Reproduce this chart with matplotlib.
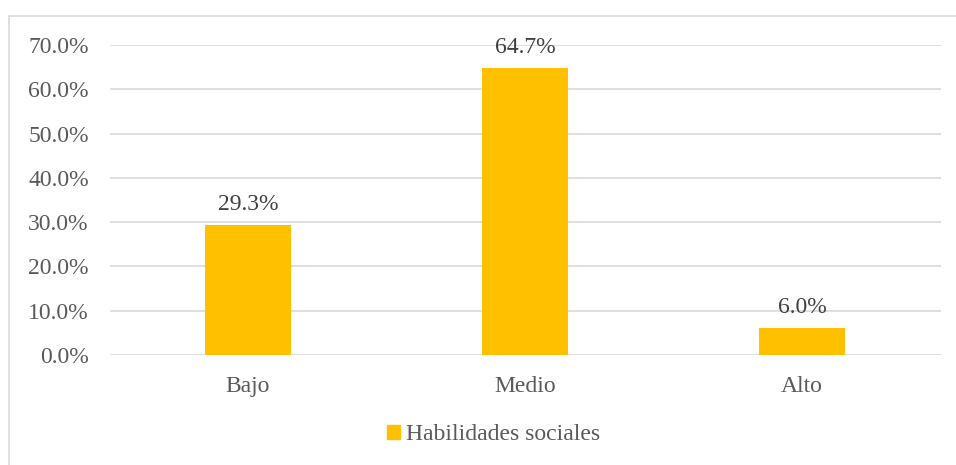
import matplotlib.pyplot as plt
from matplotlib.patches import Rectangle
from matplotlib.ticker import FuncFormatter

categories = ["Bajo", "Medio", "Alto"]
values = [29.3, 64.7, 6.0]
series_name = "Habilidades sociales"

W, H = 956, 465
fig = plt.figure(figsize=(W / 100, H / 100), dpi=100)
plt.rcParams["font.family"] = ["Liberation Serif", "DejaVu Serif"]
gray = "#595959"
bar_color = "#FFC000"
fs = 17

# outer chart border
fig.patches.append(Rectangle((9 / W, -0.01), 1.0, (H - 16) / H + 0.01,
                             transform=fig.transFigure, fill=False,
                             edgecolor="#d9d9d9", lw=1.2))

ax = fig.add_axes([109.5 / W, (H - 355) / H, 831 / W, 310 / H])
x = range(len(categories))
ax.bar(x, values, width=0.314, color=bar_color, zorder=3)
for xi, v in zip(x, values):
    ax.text(xi, v + 2.4, f"{v:.1f}%", ha="center", va="bottom",
            fontsize=fs, color="#404040")

ax.set_xlim(-0.5, 2.5)
ax.set_ylim(0, 70)
ax.set_yticks(range(0, 71, 10))
ax.yaxis.set_major_formatter(FuncFormatter(lambda v, p: f"{v:.1f}%"))
ax.set_xticks(list(x))
ax.set_xticklabels(categories)
ax.tick_params(length=0, labelsize=fs, labelcolor=gray)
ax.tick_params(axis="y", pad=15)
ax.tick_params(axis="x", pad=15)
ax.grid(axis="y", color="#d9d9d9", lw=1.2, zorder=0)
ax.set_axisbelow(True)
for s in ax.spines.values():
    s.set_visible(False)

fig.legend([Rectangle((0, 0), 1, 1, color=bar_color)], [series_name],
           loc="center", bbox_to_anchor=(494 / W, 1 - 435 / H),
           frameon=False, fontsize=fs, labelcolor=gray,
           handlelength=0.55, handleheight=0.55, handletextpad=0.25)

fig.savefig("out.png", dpi=100)
